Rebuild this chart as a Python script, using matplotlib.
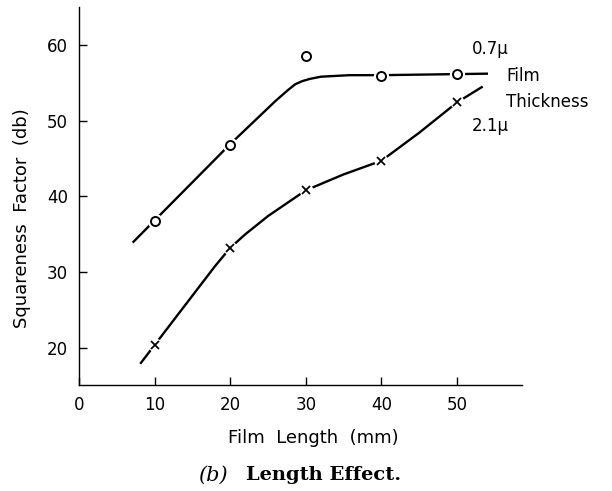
import numpy as np
import matplotlib
matplotlib.use("Agg")
import matplotlib.pyplot as plt

length = [10, 20, 30, 40, 50]
thin_sq = [36.7, 46.8, 58.5, 55.9, 56.2]      # 0.7 micron, circles
thick_sq = [20.4, 33.2, 40.8, 44.7, 52.5]     # 2.1 micron, crosses

# hand-drawn trend curves
thin_curve_x = [7.1, 20.0, 26.0, 27.6, 28.6, 29.5, 30.5, 32.0, 35.8, 40.0, 54.1]
thin_curve_y = [33.9, 46.9, 52.6, 54.0, 54.8, 55.2, 55.5, 55.8, 56.0, 56.0, 56.2]
thick_curve_x = [8.1, 18.0, 20.0, 22.0, 25.0, 30.0, 35.0, 40.0, 45.0, 50.0, 53.4]
thick_curve_y = [17.9, 30.8, 33.2, 35.0, 37.4, 40.8, 42.9, 44.7, 48.4, 52.4, 54.5]

x_ticks = [0, 10, 20, 30, 40, 50]
y_ticks = [20, 30, 40, 50, 60]

W, H = 612, 491
fig = plt.figure(figsize=(W / 100, H / 100), dpi=100)
ax = fig.add_axes([79 / W, (H - 385) / H, (522 - 79) / W, (385 - 7) / H])

ax.plot(thin_curve_x, thin_curve_y, color='black', lw=1.7, solid_capstyle='butt', zorder=2)
ax.plot(thick_curve_x, thick_curve_y, color='black', lw=1.7, solid_capstyle='butt', zorder=2)

# white gaps where the line meets a marker
ax.plot(length, thick_sq, 'o', color='white', ms=10, mec='none', zorder=3)
ax.plot(length, thick_sq, 'x', color='black', ms=6, mew=1.3, zorder=4)
ax.plot(length, thin_sq, 'o', mfc='white', mec='white', ms=10, zorder=3)
ax.plot(length, thin_sq, 'o', mfc='white', mec='black', ms=6.5, mew=1.4, zorder=4)

ax.set_xlim(0, 58.6)
ax.set_ylim(15.1, 65)
ax.set_xticks(x_ticks)
ax.set_yticks(y_ticks)
ax.tick_params(direction='in', length=6, width=1, labelsize=12, pad=8)
for s in ['top', 'right']:
    ax.spines[s].set_visible(False)
for s in ['left', 'bottom']:
    ax.spines[s].set_linewidth(1.0)

# curve labels
ax.text(54.4, 59.5, '0.7μ', fontsize=12, ha='center', va='center')
ax.text(56.5, 55.9, 'Film', fontsize=12, ha='left', va='center')
ax.text(56.5, 52.4, 'Thickness', fontsize=12, ha='left', va='center')
ax.text(54.4, 49.3, '2.1μ', fontsize=12, ha='center', va='center')

fig.text(313 / W, 1 - 438 / H, 'Film  Length  (mm)', fontsize=13, ha='center', va='center')
fig.text(22 / W, 1 - 218 / H, 'Squareness  Factor  (db)', fontsize=13,
         ha='center', va='center', rotation=90)

fig.text(198 / W, 1 - 475 / H, '(b)', fontsize=15, family='DejaVu Serif',
         style='italic', ha='left', va='center')
fig.text(246 / W, 1 - 475 / H, 'Length Effect.', fontsize=14, family='DejaVu Serif',
         weight='bold', ha='left', va='center')

fig.savefig('out.png', dpi=100)
